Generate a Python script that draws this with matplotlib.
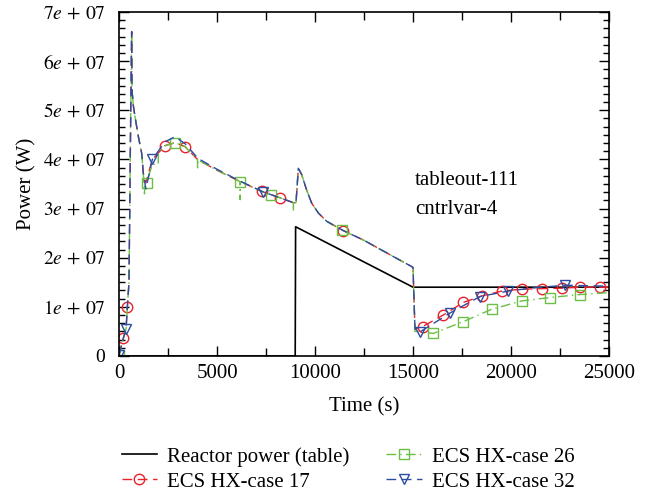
import numpy as np
import matplotlib
matplotlib.use("Agg")
import matplotlib.pyplot as plt
from matplotlib.ticker import MultipleLocator, AutoMinorLocator, FuncFormatter

plt.rcParams.update({"font.family": "Liberation Serif", "mathtext.fontset": "stix",
                     "font.size": 15})

# reactor power table (W)
t_table = [0, 8990, 9010, 15000, 15010, 25000]
p_table = [0, 0, 2.63e7, 1.40e7, 1.40e7, 1.40e7]

# ECS HX - case 17 (units of 1e7 W)
t17 = [0, 220, 360, 425, 510, 600, 645, 665, 730, 816, 985, 1155, 1240, 1370, 1700,
       2350, 2860, 3370, 4030, 5000, 6170, 7280, 8210, 8890, 9030, 9150, 9320, 9570,
       9830, 10170, 10600, 11450, 12470, 13830, 14930, 15000, 15100, 15500, 16550,
       17570, 18500, 19520, 20540, 21560, 22580, 23520, 24540, 25000]
p17 = [0.02, 0.36, 0.55, 0.99, 1.5, 5.0, 6.6, 5.4, 5.1, 4.87, 4.47, 4.13, 3.72, 3.52, 4.0,
       4.28, 4.34, 4.26, 3.99, 3.78, 3.55, 3.35, 3.22, 3.12, 3.12, 3.82, 3.69, 3.38,
       3.11, 2.91, 2.74, 2.55, 2.36, 2.06, 1.82, 1.80, 0.55, 0.60, 0.835,
       1.09, 1.22, 1.32, 1.36, 1.37, 1.38, 1.40, 1.40, 1.40]
mk17_t = [220, 425, 2350, 3370, 7280, 8210, 11450, 15500, 16550, 17570, 18500, 19520,
          20540, 21560, 22580, 23520, 24540]

# ECS HX - case 26 (with the short dips of this run)
t26 = [0, 220, 360, 425, 510, 600, 645, 665, 730, 816, 985, 1155, 1240, 1300, 1310, 1410,
       1700, 2000, 2010, 2350, 2860, 3370, 4000, 4010, 4030, 5000, 6170, 6180, 6200,
       7280, 7760, 8210, 8890, 8900, 8910, 9030, 9150, 9320, 9570, 9830, 10170, 10600,
       11380, 12470, 13830, 14930, 15000, 15100, 16040, 17570, 19010, 20540, 21990,
       23520, 25000]
p26 = [0.02, 0.36, 0.55, 0.99, 1.5, 5.0, 6.6, 5.4, 5.1, 4.87, 4.47, 4.13, 3.72, 3.30, 3.45,
       3.52, 3.9, 3.90, 4.10, 4.28, 4.34, 4.26, 4.00, 3.83, 3.99, 3.78, 3.55, 3.18, 3.55,
       3.35, 3.28, 3.22, 3.12, 2.95, 3.12, 3.12, 3.82, 3.69, 3.38, 3.11, 2.91, 2.74,
       2.56, 2.36, 2.06, 1.82, 1.80, 0.50, 0.46, 0.70, 0.95, 1.12, 1.19,
       1.25, 1.29]
mk26_t = [0, 1410, 2860, 6170, 7760, 11380, 16040, 17570, 19010, 20540, 21990, 23520]

# ECS HX - case 32
t32 = [0, 220, 360, 425, 510, 600, 645, 665, 730, 816, 985, 1155, 1240, 1370, 1700,
       2350, 2860, 3370, 4030, 5000, 6170, 7350, 8210, 8890, 9030, 9150, 9320, 9570,
       9830, 10170, 10600, 11450, 12470, 13830, 14930, 15000, 15100, 15360, 16890,
       18420, 19850, 21000, 22760, 25000]
p32 = [0.02, 0.36, 0.55, 0.99, 1.5, 5.0, 6.6, 5.4, 5.1, 4.87, 4.47, 4.13, 3.72, 3.40, 4.0,
       4.36, 4.46, 4.32, 4.02, 3.80, 3.56, 3.34, 3.22, 3.12, 3.12, 3.82, 3.69, 3.38,
       3.11, 2.91, 2.74, 2.55, 2.36, 2.06, 1.82, 1.80, 0.55, 0.49, 0.875,
       1.21, 1.32, 1.38, 1.44, 1.42]
mk32_t = [0, 360, 1700, 7350, 15360, 16890, 18420, 19850, 22760]

RED, GREEN, BLUE = "#e8212b", "#6cbf45", "#2b4ea2"

fig = plt.figure(figsize=(6.51, 4.93), dpi=100)
ax = fig.add_axes([0.1828, 0.2779, 0.7527, 0.6978])

ax.plot(t_table, p_table, color="black", lw=1.2, label="Reactor power (table)")
ax.plot(t17, np.array(p17) * 1e7, color=RED, lw=1.0, dashes=(7, 4), marker="o", ms=7.5,
        mfc="none", mew=1.0, markevery=[t17.index(v) for v in mk17_t],
        label="ECS HX-case 17")
ax.plot(t26, np.array(p26) * 1e7, color=GREEN, lw=1.0, dashes=(7, 3, 1, 3), marker="s",
        ms=6.5, mfc="none", mew=1.0, markevery=[t26.index(v) for v in mk26_t],
        label="ECS HX-case 26")
ax.plot(t32, np.array(p32) * 1e7, color=BLUE, lw=1.0, dashes=(7, 4), marker="v", ms=7.5,
        mfc="none", mew=1.0, markevery=[t32.index(v) for v in mk32_t],
        label="ECS HX-case 32")

ax.set_xlim(0, 25000)
ax.set_ylim(0, 7e7)
ax.xaxis.set_major_locator(MultipleLocator(5000))
ax.xaxis.set_minor_locator(MultipleLocator(2500))
ax.yaxis.set_major_locator(MultipleLocator(1e7))
ax.yaxis.set_minor_locator(AutoMinorLocator(6))
ax.yaxis.set_major_formatter(FuncFormatter(
    lambda v, p: "0" if v == 0 else r"$%de\,+\,07$" % round(v / 1e7)))
ax.tick_params(which="both", direction="in", top=True, right=True, width=1.0)
ax.tick_params(which="major", length=7, pad=6)
ax.tick_params(axis="y", which="major", labelsize=14, pad=10)
ax.tick_params(which="minor", length=4)
ax.tick_params(axis="x", which="minor", length=6)
for s in ax.spines.values():
    s.set_linewidth(1.2)

ax.set_xlabel("Time (s)", labelpad=10)
ax.set_ylabel("Power (W)", labelpad=4)
ax.text(15100, 3.28e7, "tableout-111\ncntrlvar-4", ha="left", va="center",
        linespacing=1.75)

fig.legend(loc="lower left", bbox_to_anchor=(0.174, -0.014), ncol=2, frameon=False,
           handlelength=1.7, handletextpad=0.5, columnspacing=1.75, labelspacing=0.25,
           borderaxespad=0.0)

fig.savefig("out.png", dpi=100)
